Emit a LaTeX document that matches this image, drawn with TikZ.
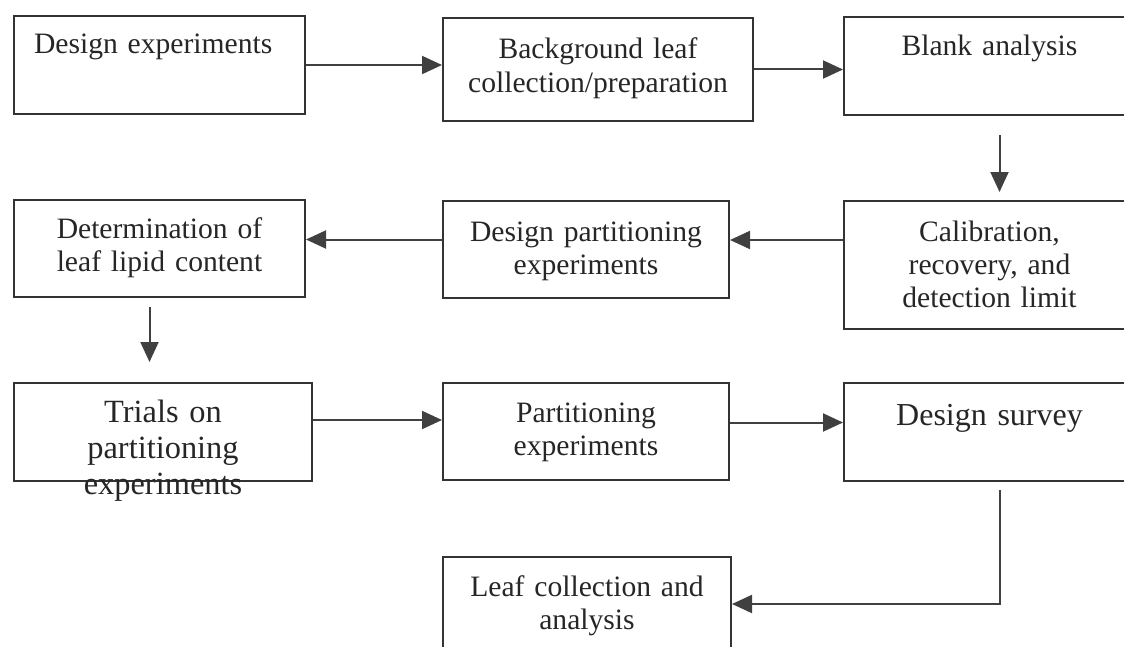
\documentclass[tikz,border=0pt]{standalone}
\usepackage{fontspec}
\setmainfont{Liberation Serif}
\usetikzlibrary{arrows.meta,positioning,calc}

\begin{document}
\begin{tikzpicture}[
  x=0.5pt, y=-0.5pt,
  font=\fontsize{14.8}{16.6}\selectfont,
  box/.style={draw=black!80, line width=1pt, inner sep=0pt, anchor=north west, align=center, text=black!85},
  big/.style={font=\fontsize{16.2}{18}\selectfont},
  arr/.style={-{Triangle[length=10pt, width=9pt]}, line width=1pt, draw=black!75}
]
\path[use as bounding box] (0,0) rectangle (1124,647);
\clip (0,0) rectangle (1124,647);

% ----- first row -----
\node[box, align=left, inner xsep=10pt, text width=125.5pt, text height=19pt, text depth=30pt] (design) at (13,15) {Design experiments};
\node[box, text width=155pt, text height=20.5pt, text depth=31pt] (backgr) at (442,17) {Background leaf\\collection/preparation};
\node[box, text width=145.5pt, text height=19.5pt, text depth=29.5pt] (blank) at (843,16) {Blank analysis};

% ----- second row -----
\node[box, text width=145.5pt, text height=20pt, text depth=44pt] (calib) at (843,200) {Calibration,\\recovery, and\\detection limit};
\node[box, text width=143pt, text height=20pt, text depth=28.5pt] (dpart) at (442,200) {Design partitioning\\experiments};
\node[box, text width=145.5pt, text height=19pt, text depth=29.5pt] (lipid) at (13,199) {Determination of\\leaf lipid content};

% ----- third row -----
\node[box, big, text width=149pt, text height=19.5pt, text depth=29.5pt] (trials) at (13,382) {Trials on\\partitioning\\experiments};
\node[box, text width=143pt, text height=19.5pt, text depth=29pt] (parti) at (442,382) {Partitioning\\experiments};
\node[box, font=\fontsize{16}{18}\selectfont, text width=145.5pt, text height=21pt, text depth=28pt] (survey) at (843,382) {Design survey};

% ----- last box -----
\node[box, text width=144pt, text height=19.5pt, text depth=35.5pt] (leaf) at (442,556) {Leaf collection and\\analysis};

% ----- connectors -----
\draw[arr] (design.east) -- (design.east -| backgr.west);
\draw[arr] (backgr.east) -- (backgr.east -| blank.west);
\coordinate (c1) at ([xshift=5pt]blank.south);
\draw[arr, shorten <=9.5pt, shorten >=4pt] (c1) -- (c1 |- calib.north);
\draw[arr] ([yshift=12.5pt]calib.west) -- ([yshift=12.5pt]calib.west -| dpart.east);
\draw[arr] ([yshift=5pt]dpart.west) -- ([yshift=5pt]dpart.west -| lipid.east);
\coordinate (c2) at ([xshift=-5pt]lipid.south);
\draw[arr, shorten <=4.5pt, shorten >=10pt] (c2) -- (c2 |- trials.north);
\draw[arr] ([yshift=6pt]trials.east) -- ([yshift=6pt]trials.east -| parti.west);
\draw[arr] ([yshift=4.5pt]parti.east) -- ([yshift=4.5pt]parti.east -| survey.west);
\draw[arr, shorten <=4pt] ([xshift=5pt]survey.south) |- ([yshift=4pt]leaf.east);

\end{tikzpicture}
\end{document}
